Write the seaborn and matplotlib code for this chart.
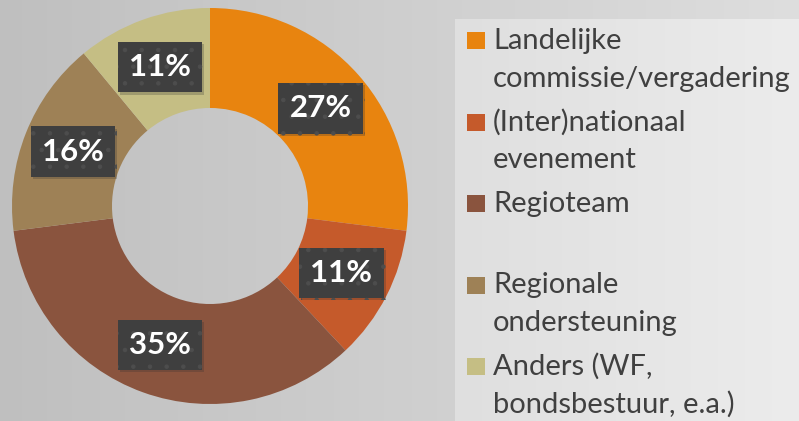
import numpy as np
import matplotlib
matplotlib.use("Agg")
import matplotlib.pyplot as plt
import matplotlib.patheffects as pe
from matplotlib.patches import Rectangle
import seaborn as sns

# data
categories = ["Landelijke\ncommissie/vergadering", "(Inter)nationaal\nevenement",
              "Regioteam", "Regionale\nondersteuning", "Anders (WF,\nbondsbestuur, e.a.)"]
shares = [27, 11, 35, 16, 11]
colors = ["#E8840F", "#C55A2B", "#8A543E", "#9E8156", "#C5BE84"]

sns.set_theme(style="white")
plt.rcParams['font.family'] = ['Lato', 'DejaVu Sans']
plt.rcParams['hatch.linewidth'] = 0.8

W, H = 799, 421
fig = plt.figure(figsize=(W / 100, H / 100), dpi=100)

# background gradient
bg = fig.add_axes([0, 0, 1, 1])
grad = np.linspace(0.75, 0.87, 256)[None, :]
bg.imshow(np.dstack([grad] * 3), aspect='auto', extent=[0, W, 0, H])
grad2 = np.linspace(0.875, 0.925, 64)[None, :]
bg.imshow(np.dstack([grad2] * 3), aspect='auto', extent=[455, W, 0, H - 19])
bg.set_xlim(0, W)
bg.set_ylim(0, H)
bg.axis('off')

# donut
cx, cy, r = 210, H - 206, 198
ax = fig.add_axes([(cx - r) / W, (cy - r) / H, 2 * r / W, 2 * r / H])
wedges, texts, autotexts = ax.pie(
    shares, colors=colors, startangle=90, counterclock=False,
    autopct='%.0f%%', pctdistance=0.745,
    wedgeprops=dict(width=0.505, linewidth=0),
    textprops=dict(color='white', fontsize=22.5, fontweight='bold'))
ax.set_xlim(-1, 1)
ax.set_ylim(-1, 1)
ax.set_aspect('equal')

for t in autotexts:
    t.set_bbox(dict(boxstyle='square,pad=0.36', facecolor='#3f3f3f',
                    edgecolor='#4d4d4d', linewidth=0, hatch='.'))
    t.get_bbox_patch().set_path_effects([
        pe.SimplePatchShadow(offset=(1.5, -1.5), shadow_rgbFace='#303030', alpha=0.25),
        pe.Normal()])

# legend drawn by hand
base0, step, line = 49, 81.5, 37.5
for i, (lab, col) in enumerate(zip(categories, colors)):
    yb = base0 + i * step
    bg.add_patch(Rectangle((467, H - yb), 18, 17, color=col, lw=0))
    for j, part in enumerate(lab.split("\n")):
        bg.text(493, H - yb - j * line, part, fontsize=21, color='#404040',
                va='baseline', ha='left')

fig.savefig("out.png", dpi=100)
